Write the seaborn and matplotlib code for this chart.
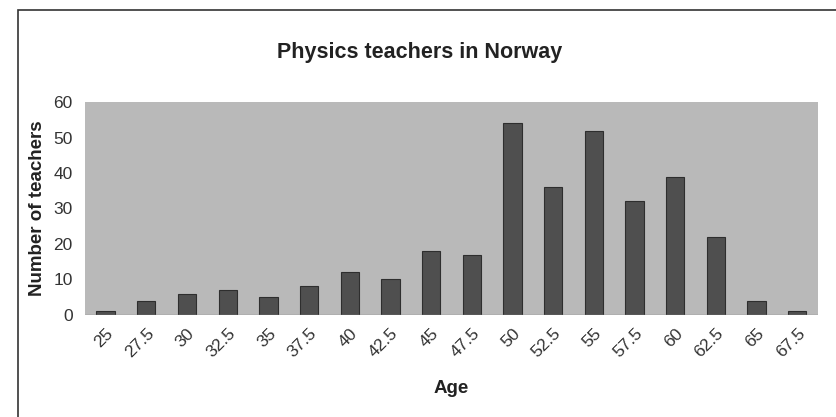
import matplotlib
matplotlib.use("Agg")
import matplotlib.pyplot as plt
import seaborn as sns
import pandas as pd
from matplotlib.patches import Rectangle

# Data
ages = ["25", "27.5", "30", "32.5", "35", "37.5", "40", "42.5", "45",
        "47.5", "50", "52.5", "55", "57.5", "60", "62.5", "65", "67.5"]
teachers = [1, 4, 6, 7, 5, 8, 12, 10, 18, 17, 54, 36, 52, 32, 39, 22, 4, 1]

df = pd.DataFrame({"Age": ages, "Teachers": teachers})

sns.set_theme(style="white")
plt.rcParams["font.family"] = ["Liberation Sans", "DejaVu Sans"]

fig = plt.figure(figsize=(8.36, 4.17), dpi=100)
ax = fig.add_axes([0.102, 0.245, 0.876, 0.51])

sns.barplot(data=df, x="Age", y="Teachers", color="#4f4f4f",
            width=0.45, saturation=1, edgecolor="#2e2e2e", linewidth=0.8, ax=ax)

ax.set_facecolor("#b9b9b9")
ax.set_ylim(0, 60)
ax.set_yticks(range(0, 61, 10))
ax.set_xlim(-0.5, len(ages) - 0.5)
for s in ax.spines.values():
    s.set_visible(False)
ax.axhline(0, color="#8a8a8a", lw=1)

ax.tick_params(axis="y", labelsize=12.5, colors="#333333", length=0, pad=9)
ax.tick_params(axis="x", labelsize=12.5, colors="#333333", length=0, pad=8)
plt.setp(ax.get_xticklabels(), rotation=45, ha="right", rotation_mode="anchor")

ax.set_xlabel("Age", fontsize=13.5, fontweight="bold", color="#222222", labelpad=14)
ax.set_ylabel("Number of teachers", fontsize=13.5, fontweight="bold",
              color="#222222", labelpad=5)
fig.text(0.502, 0.875, "Physics teachers in Norway", ha="center", va="center",
         fontsize=15.5, fontweight="bold", color="#222222")

# outer chart frame
fig.patches.append(Rectangle((0.021, -0.01), 0.985, 0.985, transform=fig.transFigure,
                             fill=False, edgecolor="#333333", lw=1.2))

fig.savefig("out.png", dpi=100)
